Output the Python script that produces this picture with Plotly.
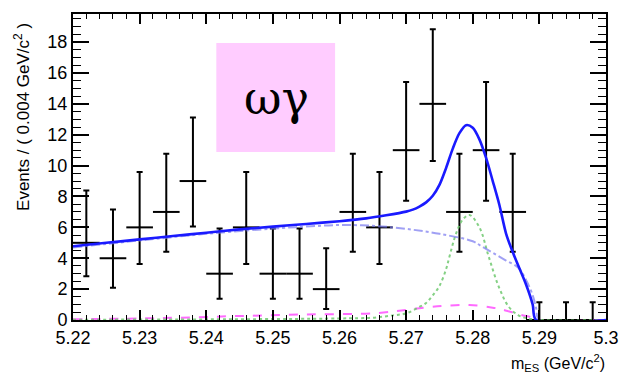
import plotly.graph_objects as go

# ---- data ----
bin_centers = [5.222, 5.226, 5.230, 5.234, 5.238, 5.242, 5.246, 5.250, 5.254, 5.258,
               5.262, 5.266, 5.270, 5.274, 5.278, 5.282, 5.286, 5.290, 5.294, 5.298]
events = [5, 4, 6, 7, 9, 3, 6, 3, 3, 2, 7, 6, 11, 14, 7, 11, 7, 0, 0, 0]
err_up = [3.38, 3.16, 3.58, 3.77, 4.11, 2.92, 3.58, 2.92, 2.92, 2.64,
          3.77, 3.58, 4.42, 4.83, 3.77, 4.42, 3.77, 1.15, 1.15, 1.15]
err_dn = [2.16, 1.91, 2.38, 2.58, 2.94, 1.63, 2.38, 1.63, 1.63, 1.29,
          2.58, 2.38, 3.27, 3.70, 2.58, 3.27, 2.58, 0.0, 0.0, 0.0]
half_bin = [0.002] * len(bin_centers)

total_x = [5.220, 5.225, 5.230, 5.235, 5.240, 5.245, 5.250, 5.255, 5.260, 5.264,
           5.267, 5.270, 5.271, 5.272, 5.273, 5.274, 5.275, 5.276, 5.277, 5.278,
           5.279, 5.280, 5.281, 5.282, 5.283, 5.284, 5.285, 5.286, 5.287, 5.288,
           5.289, 5.2895, 5.300]
total_y = [4.78, 5.00, 5.22, 5.44, 5.65, 5.87, 6.05, 6.22, 6.40, 6.58,
           6.78, 7.02, 7.15, 7.35, 7.62, 8.05, 8.75, 9.85, 11.10, 12.10,
           12.62, 12.45, 11.70, 10.50, 9.00, 7.45, 5.60, 4.40, 3.35, 2.30,
           1.00, 0.0, 0.0]

bkg_x = [5.220, 5.230, 5.240, 5.250, 5.255, 5.260, 5.265, 5.270, 5.275, 5.280,
         5.2814, 5.283, 5.285, 5.2868, 5.288, 5.289, 5.2895, 5.290, 5.300]
bkg_y = [4.70, 5.15, 5.58, 5.92, 6.05, 6.15, 6.10, 5.90, 5.58, 5.10,
         4.75, 4.35, 3.85, 3.40, 2.60, 1.60, 0.80, 0.0, 0.0]

sig_x = [5.220, 5.240, 5.260, 5.265, 5.268, 5.270, 5.272, 5.273, 5.274, 5.275,
         5.276, 5.2765, 5.2775, 5.2785, 5.2795, 5.281, 5.2824, 5.2839, 5.2854,
         5.2868, 5.288, 5.290, 5.300]
sig_y = [0.02, 0.04, 0.10, 0.15, 0.30, 0.43, 0.85, 1.10, 1.60, 2.20,
         3.30, 4.10, 5.60, 6.50, 6.80, 6.00, 4.10, 2.16, 0.86,
         0.32, 0.12, 0.0, 0.0]

peak_x = [5.220, 5.230, 5.236, 5.245, 5.255, 5.2657, 5.2726, 5.276, 5.2795,
          5.283, 5.2849, 5.2873, 5.2888, 5.2895, 5.300]
peak_y = [0.05, 0.10, 0.15, 0.26, 0.36, 0.45, 0.80, 0.93, 0.97,
          0.80, 0.62, 0.32, 0.18, 0.0, 0.0]

x_tickvals = [5.22, 5.23, 5.24, 5.25, 5.26, 5.27, 5.28, 5.29, 5.30]
x_ticktext = ["5.22", "5.23", "5.24", "5.25", "5.26", "5.27", "5.28", "5.29", "5.3"]
y_tickvals = [0, 2, 4, 6, 8, 10, 12, 14, 16, 18]

fig = go.Figure()

fig.add_trace(go.Scatter(
    x=bin_centers, y=events, mode="markers",
    marker=dict(size=2, color="black"),
    error_y=dict(type="data", symmetric=False, array=err_up, arrayminus=err_dn,
                 color="black", thickness=2, width=3),
    error_x=dict(type="data", array=half_bin, color="black", thickness=2, width=0),
    showlegend=False, cliponaxis=False))

fig.add_trace(go.Scatter(x=peak_x, y=peak_y, mode="lines", line_shape="spline",
                         line=dict(color="rgba(255,80,255,0.85)", width=2, dash="dash"),
                         showlegend=False))
fig.add_trace(go.Scatter(x=sig_x, y=sig_y, mode="lines", line_shape="spline",
                         line=dict(color="rgba(110,200,110,0.85)", width=2, dash="dot"),
                         showlegend=False))
fig.add_trace(go.Scatter(x=bkg_x, y=bkg_y, mode="lines", line_shape="spline",
                         line=dict(color="rgba(120,120,240,0.7)", width=2, dash="dashdot"),
                         showlegend=False))
fig.add_trace(go.Scatter(x=total_x, y=total_y, mode="lines",
                         line=dict(color="#1a1aff", width=2.6, shape="spline", smoothing=0.8),
                         showlegend=False))

fig.update_layout(
    width=631, height=377,
    margin=dict(l=73, r=15, t=14, b=57),
    paper_bgcolor="white", plot_bgcolor="white",
    font=dict(family="Liberation Sans, Arial, sans-serif", color="black"),
    xaxis=dict(range=[5.22, 5.30], tickvals=x_tickvals, ticktext=x_ticktext,
               ticks="inside", ticklen=10, tickwidth=1.5, tickcolor="black",
               minor=dict(dtick=0.002, ticks="inside", ticklen=5, tickwidth=1.2, tickcolor="black"),
               showline=True, linecolor="black", linewidth=2, mirror="allticks",
               showgrid=False, zeroline=False, tickfont=dict(size=18)),
    yaxis=dict(range=[0, 19.82], tickvals=y_tickvals,
               ticks="inside", ticklen=16, tickwidth=1.5, tickcolor="black",
               minor=dict(dtick=0.5, ticks="inside", ticklen=8, tickwidth=1.2, tickcolor="black"),
               showline=True, linecolor="black", linewidth=2, mirror="allticks",
               showgrid=False, zeroline=False, tickfont=dict(size=18)),
    shapes=[dict(type="rect", xref="paper", yref="paper",
                 x0=(219 - 73) / 543, x1=(340 - 73) / 543,
                 y0=(320 - 152) / 306, y1=(320 - 43) / 306,
                 fillcolor="#ffccff", line=dict(width=0), layer="above")],
    annotations=[
        dict(text="ωγ", xref="paper", yref="paper",
             x=(280 - 73) / 543, y=(320 - 98) / 306, showarrow=False,
             xanchor="center", yanchor="middle",
             font=dict(family="DejaVu Serif", size=46, color="black")),
        dict(text="Events / ( 0.004 GeV/c<sup>2</sup> )", xref="paper", yref="paper",
             x=(21 - 73) / 543, y=(320 - 117) / 306, textangle=-90, showarrow=False,
             xanchor="center", yanchor="middle", font=dict(size=17)),
        dict(text="m<sub>ES</sub> (GeV/c<sup>2</sup>)", xref="paper", yref="paper",
             x=1.002, y=(320 - 363) / 306, showarrow=False,
             xanchor="right", yanchor="middle", font=dict(size=16)),
    ],
)

fig.write_html("out.html", config={"displayModeBar": False},
               post_script="document.body.style.margin='0px';")
